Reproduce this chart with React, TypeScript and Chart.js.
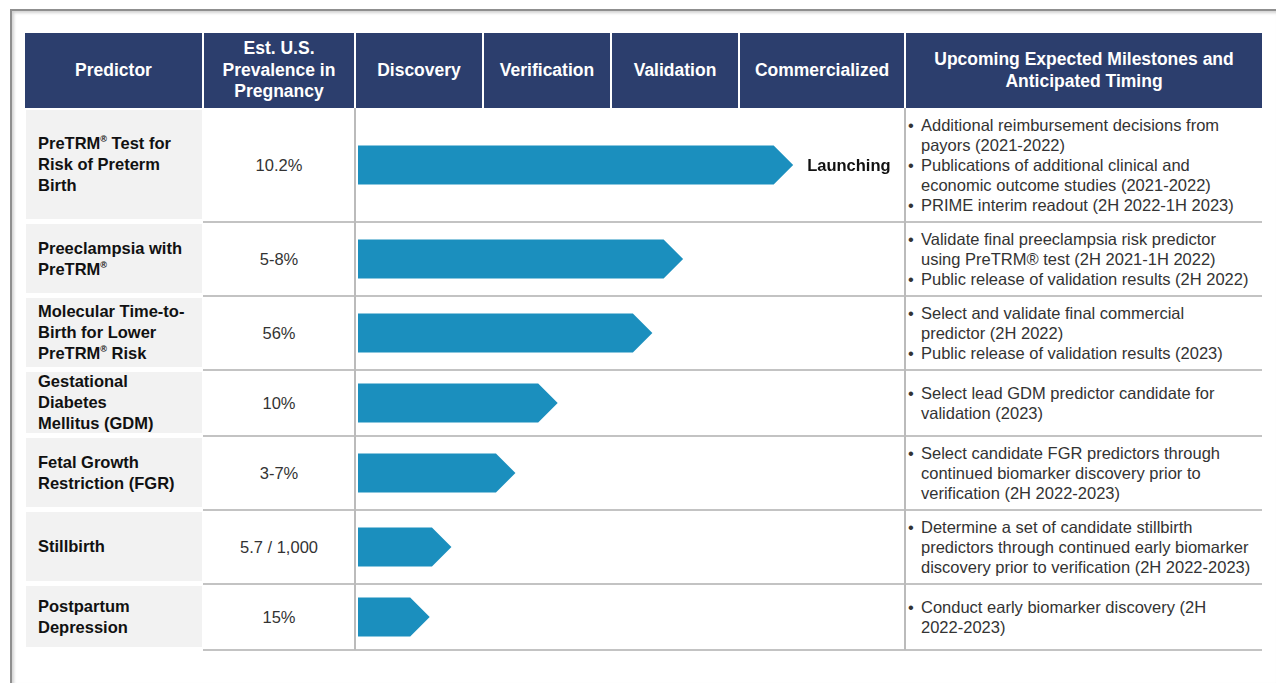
import React, { useEffect, useRef } from "react";
import { Chart, registerables, CategoryScale } from "chart.js";

Chart.register(...registerables);

// ---------- data ----------
const HEAD_PREDICTOR = "Predictor";
const HEAD_PREVALENCE = "Est. U.S.\nPrevalence in\nPregnancy";
const STAGES = ["Discovery", "Verification", "Validation", "Commercialized"];
const HEAD_MILESTONES = "Upcoming Expected Milestones and\nAnticipated Timing";

const PREDICTORS = [
  "PreTRM® Test for\nRisk of Preterm\nBirth",
  "Preeclampsia with\nPreTRM®",
  "Molecular Time-to-\nBirth for Lower\nPreTRM® Risk",
  "Gestational\nDiabetes\nMellitus (GDM)",
  "Fetal Growth\nRestriction (FGR)",
  "Stillbirth",
  "Postpartum\nDepression",
];

const PREVALENCE = ["10.2%", "5-8%", "56%", "10%", "3-7%", "5.7 / 1,000", "15%"];

// progress along the pipeline, in stage units (1 unit = one stage column)
const STAGE_PROGRESS = [3.4, 2.54, 2.3, 1.56, 1.23, 0.73, 0.56];

const STATUS_LABELS = ["Launching", "", "", "", "", "", ""];

const MILESTONES = [
  [
    "Additional reimbursement decisions from\npayors (2021-2022)",
    "Publications of additional clinical and\neconomic outcome studies (2021-2022)",
    "PRIME interim readout (2H 2022-1H 2023)",
  ],
  [
    "Validate final preeclampsia risk predictor\nusing PreTRM® test (2H 2021-1H 2022)",
    "Public release of validation results (2H 2022)",
  ],
  [
    "Select and validate final commercial\npredictor (2H 2022)",
    "Public release of validation results (2023)",
  ],
  ["Select lead GDM predictor candidate for\nvalidation (2023)"],
  [
    "Select candidate FGR predictors through\ncontinued biomarker discovery prior to\nverification (2H 2022-2023)",
  ],
  [
    "Determine a set of candidate stillbirth\npredictors through continued early biomarker\ndiscovery prior to verification (2H 2022-2023)",
  ],
  ["Conduct early biomarker discovery (2H\n2022-2023)"],
];

// ---------- layout / style ----------
const FONT = '"Liberation Sans", Arial, Helvetica, sans-serif';
const NAVY = "#2C3E6D";
const BAR_COLOR = "#1B8FBE";
const LINE = "#C3C3C3";
const COL_X = [25, 203, 355, 483, 611, 739, 905, 1262];
const HEADER_TOP = 33;
const BODY_TOP = 108;
const ROW_HEIGHTS = [114, 74, 74, 66, 74, 74, 66];
const BODY_H = ROW_HEIGHTS.reduce((a, b) => a + b, 0);
const CHART_LEFT = 358;
const CHART_W = COL_X[6] - CHART_LEFT;
const X_MAX = CHART_W / 128;
const BAR_THICKNESS = 39;

// category scale whose rows follow the table's row heights
class RowScale extends CategoryScale {
  getPixelForValue(value: any) {
    const idx = typeof value === "number" ? value : (this as any).parse(value);
    if (idx === null || idx === undefined || isNaN(idx)) return NaN;
    const i = Math.max(0, Math.min(ROW_HEIGHTS.length - 1, Math.round(idx)));
    let acc = 0;
    for (let k = 0; k < i; k++) acc += ROW_HEIGHTS[k];
    acc += ROW_HEIGHTS[i] / 2;
    const s: any = this;
    return s.top + (acc / BODY_H) * (s.bottom - s.top);
  }
}
(RowScale as any).id = "rows";
(RowScale as any).defaults = (CategoryScale as any).defaults;
Chart.register(RowScale as any);

const arrowPlugin = {
  id: "arrowBars",
  beforeDatasetDraw() {
    return false;
  },
  afterDatasetsDraw(chart: any) {
    const ctx = chart.ctx;
    const meta = chart.getDatasetMeta(0);
    const ds = chart.data.datasets[0];
    meta.data.forEach((el: any, i: number) => {
      const { x, y, base, height } = el.getProps(["x", "y", "base", "height"], true);
      const h = height / 2;
      ctx.save();
      ctx.fillStyle = ds.backgroundColor;
      ctx.beginPath();
      ctx.moveTo(base, y - h);
      ctx.lineTo(x - h, y - h);
      ctx.lineTo(x, y);
      ctx.lineTo(x - h, y + h);
      ctx.lineTo(base, y + h);
      ctx.closePath();
      ctx.fill();
      const label = STATUS_LABELS[i];
      if (label) {
        ctx.fillStyle = "#111111";
        ctx.font = `bold 16.5px ${FONT}`;
        ctx.textAlign = "left";
        ctx.textBaseline = "middle";
        ctx.fillText(label, x + 14, y + 1);
      }
      ctx.restore();
    });
  },
};

function StageChart() {
  const ref = useRef<HTMLCanvasElement>(null);
  useEffect(() => {
    const chart = new Chart(ref.current as HTMLCanvasElement, {
      type: "bar",
      data: {
        labels: PREDICTORS.map((p) => p.replace(/\n/g, " ")),
        datasets: [
          {
            data: STAGE_PROGRESS,
            backgroundColor: BAR_COLOR,
            barThickness: BAR_THICKNESS,
          } as any,
        ],
      },
      options: {
        indexAxis: "y",
        animation: false,
        responsive: false,
        devicePixelRatio: 1,
        events: [],
        layout: { padding: 0 },
        plugins: { legend: { display: false }, tooltip: { enabled: false } },
        scales: {
          x: { type: "linear", min: 0, max: X_MAX, display: false },
          y: { type: "rows", display: false } as any,
        },
      } as any,
      plugins: [arrowPlugin as any],
    });
    return () => chart.destroy();
  }, []);
  return (
    <canvas
      ref={ref}
      width={CHART_W}
      height={BODY_H}
      style={{ position: "absolute", left: CHART_LEFT, top: BODY_TOP, width: CHART_W, height: BODY_H }}
    />
  );
}

function withReg(line: string, small: boolean) {
  if (!small) return line;
  const parts = line.split("®");
  const out: any[] = [];
  parts.forEach((p, i) => {
    out.push(p);
    if (i < parts.length - 1)
      out.push(
        <span
          key={i}
          style={{ fontSize: "0.55em", position: "relative", top: "-0.75em", lineHeight: 0 }}
        >
          ®
        </span>
      );
  });
  return out;
}

function Lines({ text, small }: { text: string; small?: boolean }) {
  const ls = text.split("\n");
  return (
    <>
      {ls.map((l, i) => (
        <div key={i} style={{ whiteSpace: "nowrap" }}>
          {withReg(l, !!small)}
        </div>
      ))}
    </>
  );
}

export default function App() {
  const headers = [HEAD_PREDICTOR, HEAD_PREVALENCE, ...STAGES, HEAD_MILESTONES];
  const rowTops: number[] = [];
  let acc = BODY_TOP;
  ROW_HEIGHTS.forEach((h) => {
    rowTops.push(acc);
    acc += h;
  });
  const bodyBottom = acc;

  return (
    <div
      style={{
        position: "fixed",
        left: 0,
        top: 0,
        width: 1280,
        height: 686,
        background: "#ffffff",
        overflow: "hidden",
        fontFamily: FONT,
      }}
    >
      {/* frame */}
      <div
        style={{
          position: "absolute",
          left: 10,
          top: 9,
          width: 1264,
          height: 672,
          borderTop: "2px solid #8f8f8f",
          borderLeft: "2px solid #8f8f8f",
          boxShadow: "inset 2px 2px 3px rgba(0,0,0,0.18)",
        }}
      />

      {/* header */}
      {headers.map((h, i) => {
        const left = COL_X[i] + (i > 0 ? 1 : 0);
        const right = COL_X[i + 1] - (i < headers.length - 1 ? 1 : 0);
        return (
          <div
            key={i}
            style={{
              position: "absolute",
              left,
              top: HEADER_TOP,
              width: right - left,
              height: BODY_TOP - HEADER_TOP,
              background: NAVY,
              color: "#ffffff",
              fontWeight: "bold",
              fontSize: 17.5,
              lineHeight: "21.5px",
              display: "flex",
              flexDirection: "column",
              alignItems: "center",
              justifyContent: "center",
              textAlign: "center",
            }}
          >
            <Lines text={h} />
          </div>
        );
      })}

      {/* body rows */}
      {ROW_HEIGHTS.map((h, r) => {
        const top = rowTops[r];
        return (
          <React.Fragment key={r}>
            <div
              style={{
                position: "absolute",
                left: 26,
                top: top + 2,
                width: 176,
                height: h - 5,
                background: "#F2F2F2",
                color: "#111111",
                fontWeight: "bold",
                fontSize: 16.5,
                lineHeight: "21px",
                display: "flex",
                flexDirection: "column",
                justifyContent: "center",
                paddingLeft: 12,
                boxSizing: "border-box",
              }}
            >
              <Lines text={PREDICTORS[r]} small />
            </div>
            <div
              style={{
                position: "absolute",
                left: COL_X[1],
                top,
                width: COL_X[2] - COL_X[1],
                height: h,
                color: "#333333",
                fontSize: 16.5,
                display: "flex",
                alignItems: "center",
                justifyContent: "center",
              }}
            >
              {PREVALENCE[r]}
            </div>
            <div
              style={{
                position: "absolute",
                left: COL_X[6] + 3,
                top,
                width: COL_X[7] - COL_X[6] - 3,
                height: h,
                color: "#333333",
                fontSize: 16.5,
                lineHeight: "20px",
                display: "flex",
                flexDirection: "column",
                justifyContent: "center",
              }}
            >
              {MILESTONES[r].map((m, j) => (
                <div key={j} style={{ display: "flex" }}>
                  <div style={{ width: 13, flex: "none" }}>•</div>
                  <div>
                    <Lines text={m} />
                  </div>
                </div>
              ))}
            </div>
            <div
              style={{
                position: "absolute",
                left: COL_X[1],
                top: top + h - 1,
                width: COL_X[7] - COL_X[1],
                height: 2,
                background: LINE,
              }}
            />
          </React.Fragment>
        );
      })}

      {/* vertical dividers */}
      {[COL_X[2], COL_X[6]].map((x, i) => (
        <div
          key={i}
          style={{
            position: "absolute",
            left: x - 1,
            top: BODY_TOP,
            width: 2,
            height: bodyBottom - BODY_TOP,
            background: "#BBBBBB",
          }}
        />
      ))}

      <StageChart />
    </div>
  );
}
